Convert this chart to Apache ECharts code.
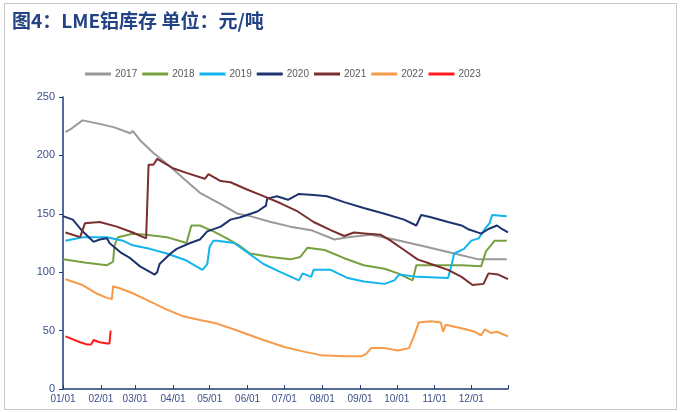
<!DOCTYPE html>
<html>
<head>
<meta charset="utf-8">
<script src="https://cdn.jsdelivr.net/npm/echarts@6/dist/echarts.min.js"></script>
<style>
  html, body { margin: 0; padding: 0; background: #fff; }
  #frame { position: absolute; left: 4px; top: 3px; width: 671px; height: 405px; border: 1px solid #c8c8c8; }
  #chart { position: absolute; left: 0; top: 0; width: 681px; height: 412px; }
</style>
</head>
<body>
<div id="frame"></div>
<div id="chart"></div>
<script>
// x axis: days of the year, labelled MM/DD
var monthDays = [31, 28, 31, 30, 31, 30, 31, 31, 30, 31, 30, 31];
var years = ["2017", "2018", "2019", "2020", "2021", "2022", "2023"];
var colors = ["#999999", "#77a040", "#12b4ee", "#1c336e", "#7a2e2e", "#f79a4a", "#ff1a1a"];

// [day of year, stock]
var s2017 = [[2,220],[7,223],[16,230],[30,227],[42,224],[55,219],[57,221],[63,213],[74,202],[88,190],[100,179],[112,168],[128,159],[143,150],[153,148],[170,143],[186,139],[203,136],[222,128],[233,130],[252,132],[271,128],[296,122],[320,116],[340,111],[363,111]];
var s2018 = [[0,111],[19,108],[36,106],[41,109],[42,122],[44,128],[45,130],[57,133],[68,132],[85,130],[101,125],[105,140],[112,140],[123,135],[134,129],[144,123],[153,116],[170,113],[186,111],[194,113],[200,121],[214,119],[230,112],[246,106],[263,103],[274,99],[282,95],[286,93],[289,106],[326,106],[342,105],[346,118],[350,123],[353,127],[363,127]];
var s2019 = [[2,127],[16,130],[36,130],[49,127],[57,123],[71,120],[85,116],[101,110],[114,102],[118,107],[120,122],[123,127],[126,127],[140,125],[148,119],[164,107],[178,100],[193,93],[196,99],[203,96],[205,102],[219,102],[233,95],[246,92],[263,90],[271,93],[275,98],[290,96],[315,95],[318,107],[320,116],[328,120],[334,127],[340,129],[345,137],[349,142],[351,149],[363,148]];
var s2020 = [[0,148],[8,145],[16,135],[25,126],[30,128],[36,129],[38,125],[47,117],[55,112],[63,105],[75,98],[77,100],[79,107],[88,116],[93,120],[104,125],[112,128],[118,135],[129,139],[137,145],[145,147],[159,152],[166,157],[167,163],[175,165],[184,162],[193,167],[205,166],[216,165],[230,160],[246,155],[263,150],[279,145],[289,140],[293,149],[301,147],[315,143],[326,140],[331,137],[342,133],[348,137],[355,140],[359,137],[364,134]];
var s2021 = [[2,134],[14,130],[18,142],[30,143],[44,139],[57,134],[68,129],[70,192],[74,192],[77,197],[90,189],[101,185],[116,180],[119,184],[129,178],[137,177],[150,171],[162,166],[178,159],[192,152],[205,143],[219,136],[230,131],[238,134],[249,133],[260,132],[268,127],[279,119],[290,111],[301,107],[315,102],[326,96],[335,89],[344,90],[348,99],[356,98],[364,94]];
var s2022 = [[2,94],[16,89],[27,82],[36,78],[40,77],[41,88],[47,86],[57,82],[71,75],[85,68],[99,62],[112,59],[126,56],[140,51],[148,48],[164,42],[181,36],[197,32],[211,29],[230,28],[244,28],[248,30],[252,35],[263,35],[274,33],[283,35],[287,45],[291,57],[301,58],[309,57],[311,49],[313,55],[326,52],[337,49],[342,46],[345,51],[350,48],[355,49],[364,45]];
var s2023 = [[2,45],[14,40],[20,38],[23,38],[25,42],[30,40],[36,39],[38,39],[39,50]];

var days = [];
monthDays.forEach(function (n, m) {
  for (var d = 1; d <= n; d++) {
    days.push((m < 9 ? "0" : "") + (m + 1) + "/" + (d < 10 ? "0" : "") + d);
  }
});
var yearData = [s2017, s2018, s2019, s2020, s2021, s2022, s2023];

var axisColor = "#1f3a78";
var labelColor = "#3c4f86";

var chart = echarts.init(document.getElementById("chart"));
var option = {
  animation: false,
  title: {
    text: "图4：LME铝库存 单位：元/吨",
    left: 7,
    top: 6,
    textStyle: {
      fontFamily: "Noto Sans CJK SC",
      fontSize: 19,
      fontWeight: "bold",
      color: "#234384",
    },
  },
  legend: {
    top: 64,
    left: 80,
    icon: "rect",
    itemWidth: 26,
    itemHeight: 3,
    itemGap: 5,
    textStyle: { fontFamily: "Liberation Sans", fontSize: 10, color: "#595959", padding: [0, 0, 0, -1] },
    data: years,
  },
  grid: { left: 63, right: 173, top: 97, bottom: 23 },
  xAxis: {
    type: "category",
    boundaryGap: false,
    data: days,
    axisLine: { lineStyle: { color: axisColor, width: 1.5 } },
    axisTick: {
      inside: true,
      length: 4,
      lineStyle: { color: axisColor },
      interval: function (i, v) { return v.slice(3) === "01" || i === days.length - 1; },
    },
    axisLabel: {
      color: labelColor,
      fontFamily: "Liberation Sans",
      fontSize: 10,
      margin: 5,
      interval: function (i, v) { return v.slice(3) === "01"; },
    },
    splitLine: { show: false },
  },
  yAxis: {
    type: "value",
    min: 0,
    max: 250,
    interval: 50,
    axisLine: { show: true, lineStyle: { color: axisColor, width: 1.5 } },
    axisTick: { show: true, length: 4, lineStyle: { color: axisColor } },
    axisLabel: { color: labelColor, fontFamily: "Liberation Sans", fontSize: 11, margin: 8 },
    splitLine: { show: false },
  },
  series: years.map(function (y, i) {
    return {
      name: y,
      type: "line",
      data: yearData[i],
      symbol: "none",
      lineStyle: { width: 2, color: colors[i] },
      itemStyle: { color: colors[i] },
    };
  }),
};
chart.setOption(option);
</script>
</body>
</html>
